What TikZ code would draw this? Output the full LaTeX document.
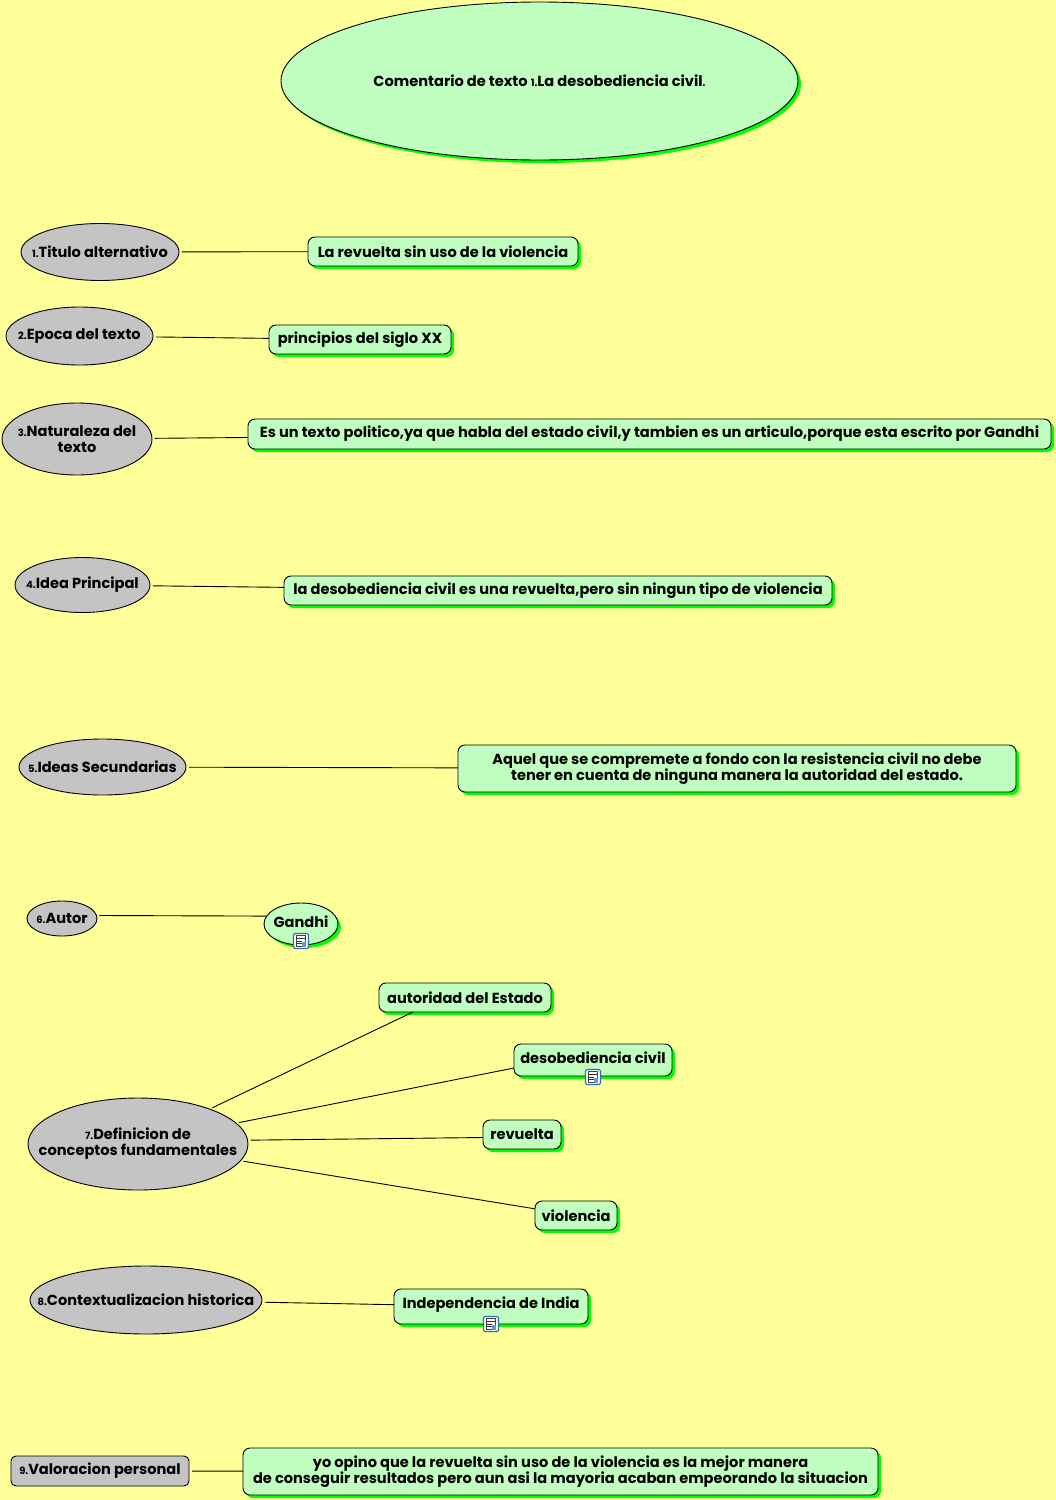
\documentclass[tikz,border=0pt]{standalone}
\usepackage{xcolor}
\usepackage{fontspec}
\setmainfont{Poppins}
\usetikzlibrary{
  shapes.geometric,
  shadows,
  positioning
}
\definecolor{mapBack}{HTML}{FFFF99}
\definecolor{mapMint}{HTML}{C0FFC0}
\definecolor{mapGray}{HTML}{C4C4C4}
\definecolor{mapGreen}{HTML}{00FF00}
\definecolor{mapBlue}{HTML}{2F6CB5}
\newcommand{\nb}[1]{{\fontsize{10}{10}\selectfont #1}}
\tikzset{
  mapnode/.style={
    draw=black, line width=0.9pt, inner sep=0pt, outer sep=0pt, align=center, text=black,
    font=\fontsize{14.6}{16}\selectfont\bfseries
  },
  topic/.style={mapnode, ellipse, inner xsep=-30pt, fill=mapGray},
  topicbox/.style={mapnode, rounded corners=5pt, fill=mapGray},
  idea/.style={mapnode, rounded corners=7pt, fill=mapMint,
    drop shadow={shadow xshift=3pt, shadow yshift=-3pt, fill=mapGreen, opacity=1}},
  ideaoval/.style={mapnode, ellipse, inner xsep=-30pt, fill=mapMint,
    drop shadow={shadow xshift=3pt, shadow yshift=-3pt, fill=mapGreen, opacity=1}},
  sized/.style 2 args={minimum width=#1, minimum height=#2},
  link/.style={line width=0.9pt, black, shorten <=3pt},
  noteicon/.pic={
    \draw[mapBlue, line width=1.2pt, fill=white, rounded corners=2pt] (-7.5,-7.5) rectangle (7.5,7.5);
    \fill[black!75] (-5,-6) rectangle (5,6);
    \fill[white] (-4,-5) rectangle (4,5);
    \foreach \ly in {2.5,0,-2.5}
      \draw[black!80, line width=1pt] (-4,\ly) -- (1,\ly);
    \draw[black!80, line width=1pt] (-4,-2.5) -- (4,-2.5);
    \fill[mapBlue!70] (1,1) rectangle (5,6);
  }
}
\begin{document}
\begin{tikzpicture}[x=1pt, y=-1pt]
  \fill[mapBack] (0,0) rectangle (1056,1500);
  \useasboundingbox (0,0) rectangle (1056,1500);

  \node[ideaoval, sized={517pt}{158pt}] (title) at (539.5,81) {Comentario de texto \nb{1.}La desobediencia civil\nb{.}};

  % left column
  \node[topic, sized={158pt}{57pt}] (alt) at (100,252) {\nb{1.}Titulo alternativo};
  \node[topic, sized={147pt}{58pt}] (epoca) at (79.5,336) {\nb{2.}Epoca del texto};
  \node[topic, sized={150pt}{72pt}] (natur) at (77,439) {\nb{3.}Naturaleza del\\texto};
  \node[topic, sized={135pt}{55pt}] (princ) at (82.5,585) {\nb{4.}Idea Principal};
  \node[topic, sized={167pt}{56pt}] (secun) at (102.5,767) {\nb{5.}Ideas Secundarias};
  \node[topic, sized={70pt}{35pt}] (autor) at (62,918.5) {\nb{6.}Autor};
  \node[topic, sized={220pt}{92pt}] (defin) at (138,1144) {\nb{7.}Definicion de\\conceptos fundamentales};
  \node[topic, sized={232pt}{68pt}] (conte) at (146,1300) {\nb{8.}Contextualizacion historica};
  \node[topicbox, sized={178pt}{30pt}] (valor) at (100,1471) {\nb{9.}Valoracion personal};

  % answers
  \node[idea, sized={270pt}{29pt}] (revsin) at (443,251.5) {La revuelta sin uso de la violencia};
  \node[idea, sized={182pt}{29pt}] (siglo) at (360,339.5) {principios del siglo XX};
  \node[idea, sized={803pt}{30pt}] (polit) at (649.5,434) {Es un texto politico,ya que habla del estado civil,y tambien es un articulo,porque esta escrito por Gandhi};
  \node[idea, sized={548pt}{29pt}] (desc) at (558,590.5) {la desobediencia civil es una revuelta,pero sin ningun tipo de violencia};
  \node[idea, sized={558pt}{47pt}] (aquel) at (737,768.5) {Aquel que se compremete a fondo con la resistencia civil no debe\\tener en cuenta de ninguna manera la autoridad del estado.};
  \node[ideaoval, sized={74pt}{42pt}, text depth=5pt] (gandhi) at (301,924) {Gandhi};
  \node[idea, sized={172pt}{29pt}] (estado) at (465,997.5) {autoridad del Estado};
  \node[idea, sized={158pt}{32pt}, text depth=5pt] (desob) at (593,1060) {desobediencia civil};
  \node[idea, sized={78pt}{29pt}] (revu) at (522,1134.5) {revuelta};
  \node[idea, sized={82pt}{29pt}] (viol) at (576,1215.5) {violencia};
  \node[idea, sized={194pt}{35pt}, text depth=7pt] (india) at (491,1306.5) {Independencia de India};
  \node[idea, sized={635pt}{47pt}] (opino) at (560.5,1471.5) {yo opino que la revuelta sin uso de la violencia es la mejor manera\\de conseguir resultados pero aun asi la mayoria acaban empeorando la situacion};

  \draw[link] (alt) -- (revsin);
  \draw[link] (epoca) -- (siglo);
  \draw[link] (natur) -- (polit);
  \draw[link] (princ) -- (desc);
  \draw[link] (secun) -- (aquel);
  \draw[link] (autor.5) -- (gandhi.167);
  \draw[link] (defin.26) -- ([xshift=-52pt]estado.south);
  \draw[link] (defin.12) -- ([yshift=-8pt]desob.west);
  \draw[link] (defin.2) -- ([yshift=-3pt]revu.west);
  \draw[link] (defin) -- (viol);
  \draw[link] (conte) -- (india);
  \draw[link] (valor) -- (opino);

  \pic at (301,941) {noteicon};
  \pic at (593,1077) {noteicon};
  \pic at (491,1324) {noteicon};
\end{tikzpicture}
\end{document}
